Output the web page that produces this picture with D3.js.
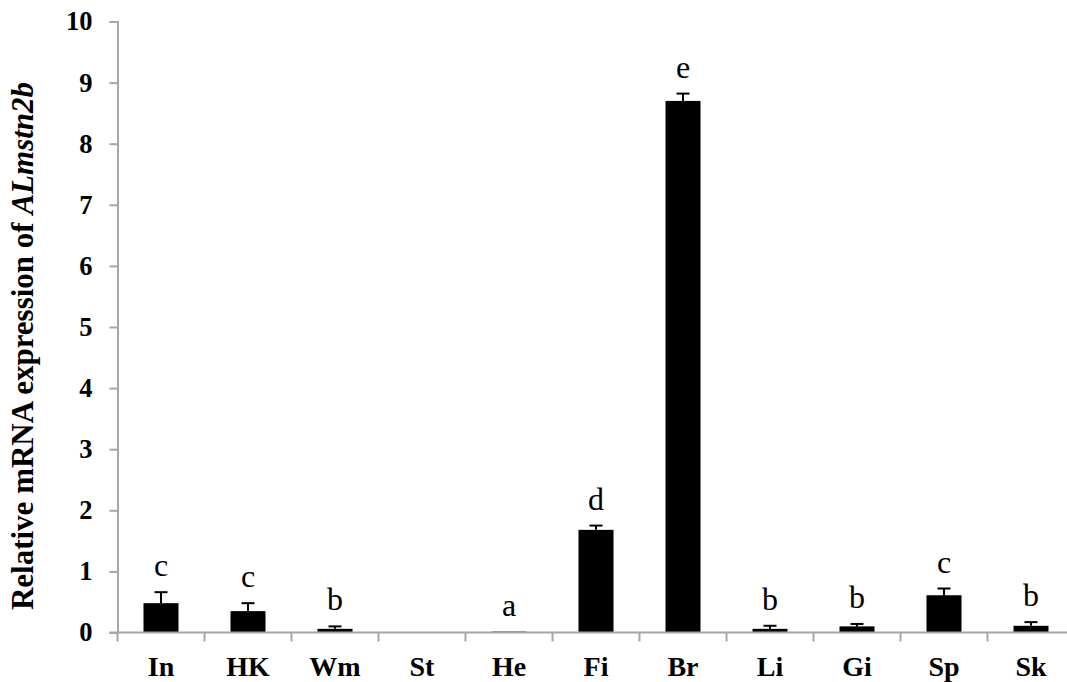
<!DOCTYPE html>
<html>
<head>
<meta charset="utf-8">
<script src="https://cdn.jsdelivr.net/npm/d3@7"></script>
<style>
  html, body { margin: 0; padding: 0; background: #fff; }
  svg { display: block; }
</style>
</head>
<body>
<svg id="chart" width="1067" height="682"></svg>
<script>
const categories = ["In", "HK", "Wm", "St", "He", "Fi", "Br", "Li", "Gi", "Sp", "Sk"];
const values     = [0.48, 0.35, 0.06, 0.008, 0.015, 1.68, 8.70, 0.06, 0.10, 0.61, 0.11];
const errors     = [0.18, 0.13, 0.04, 0, 0, 0.07, 0.12, 0.05, 0.04, 0.11, 0.06];
const letters    = ["c", "c", "b", "", "a", "d", "e", "b", "b", "c", "b"];
const yTicks     = [0, 1, 2, 3, 4, 5, 6, 7, 8, 9, 10];

const svg = d3.select("#chart");
const mLeft = 117.5, mBottom = 632.5, mTop = 21.5, step = 87;
const axisColor = "#a6a6a6";
const serif = "'Liberation Serif', 'Times New Roman', serif";

const x = d3.scaleBand().domain(categories).range([mLeft, mLeft + step * categories.length]).padding(0);
const y = d3.scaleLinear().domain([0, 10]).range([mBottom, mTop]);
const barW = 35;

// Y axis
const yAxis = d3.axisLeft(y).tickValues(yTicks).tickSize(8).tickPadding(17).tickFormat(d3.format("d"));
const gy = svg.append("g").attr("transform", `translate(${mLeft},0)`).call(yAxis);
gy.select(".domain").attr("stroke", axisColor).attr("stroke-width", 2);
gy.selectAll(".tick line").attr("stroke", axisColor).attr("stroke-width", 2);
gy.selectAll(".tick text")
  .attr("fill", "#000")
  .style("font-family", serif)
  .style("font-weight", "bold")
  .style("font-size", "26.5px");

// Bars
svg.append("g").selectAll("rect").data(categories).join("rect")
  .attr("x", (d) => x(d) + (x.bandwidth() - barW) / 2)
  .attr("width", barW)
  .attr("y", (d, i) => y(values[i]))
  .attr("height", (d, i) => y(0) - y(values[i]))
  .attr("fill", "#000");

// Error bars (upper only)
const eg = svg.append("g").attr("stroke", "#000").attr("stroke-width", 2);
categories.forEach((c, i) => {
  if (!errors[i]) return;
  const cx = x(c) + x.bandwidth() / 2;
  eg.append("line").attr("x1", cx).attr("x2", cx).attr("y1", y(values[i])).attr("y2", y(values[i] + errors[i]));
  eg.append("line").attr("x1", cx - 6.5).attr("x2", cx + 6.5).attr("y1", y(values[i] + errors[i])).attr("y2", y(values[i] + errors[i]));
});

// X axis
const gx = svg.append("g");
gx.append("line").attr("x1", mLeft - 8).attr("x2", mLeft + step * categories.length)
  .attr("y1", mBottom).attr("y2", mBottom).attr("stroke", axisColor).attr("stroke-width", 2);
gx.selectAll("line.tk").data(categories.concat(["__end"])).join("line").attr("class", "tk")
  .attr("x1", (d, i) => i < categories.length ? x(d) : x.range()[1])
  .attr("x2", (d, i) => i < categories.length ? x(d) : x.range()[1])
  .attr("y1", mBottom).attr("y2", mBottom + 9)
  .attr("stroke", axisColor).attr("stroke-width", 2);
gx.selectAll("text").data(categories).join("text")
  .attr("x", (d) => x(d) + x.bandwidth() / 2)
  .attr("y", 676)
  .attr("text-anchor", "middle")
  .style("font-family", serif)
  .style("font-weight", "bold")
  .style("font-size", "28px")
  .text((d) => d);

// Significance letters
svg.append("g").selectAll("text").data(categories).join("text")
  .attr("x", (d) => x(d) + x.bandwidth() / 2)
  .attr("y", (d, i) => y(values[i] + errors[i]) - 16)
  .attr("text-anchor", "middle")
  .style("font-family", serif)
  .style("font-size", "32px")
  .text((d, i) => letters[i]);

// Y title
const title = svg.append("text")
  .attr("transform", "translate(33,346) rotate(-90)")
  .attr("text-anchor", "middle")
  .style("font-family", serif)
  .style("font-weight", "bold")
  .style("font-size", "31px");
title.append("tspan").text("Relative mRNA expression of ");
title.append("tspan").style("font-style", "italic").text("ALmstn2b");
</script>
</body>
</html>
